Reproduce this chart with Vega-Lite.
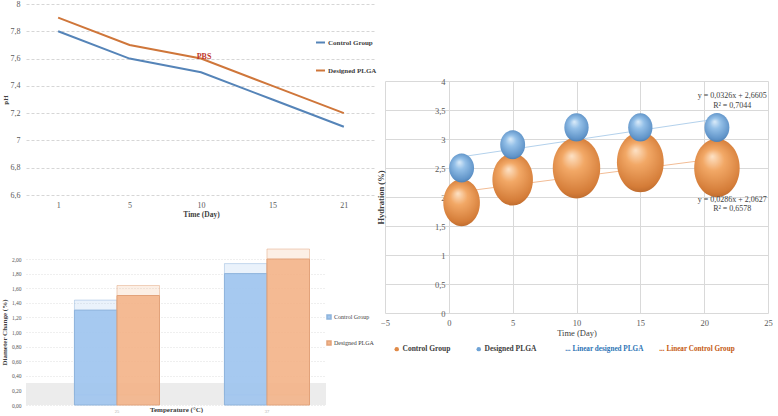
{
  "$schema": "https://vega.github.io/schema/vega-lite/v6.json",
  "padding": 0,
  "background": "white",
  "config": {
    "locale": {"number": {"decimal": ",", "thousands": ".", "grouping": [3], "currency": ["", ""]}},
    "view": {"stroke": null},
    "font": "Liberation Serif",
    "axis": {"domain": false, "ticks": false, "labelOverlap": false, "labelFont": "Liberation Serif", "titleFont": "Liberation Serif", "labelColor": "#595959", "titleColor": "#404040", "gridColor": "#d9d9d9", "titleFontWeight": "bold"},
    "legend": {"labelFont": "Liberation Serif", "titleFont": "Liberation Serif", "labelColor": "#404040"}
  },
  "spacing": -1,
  "resolve": {"scale": {"color": "independent", "size": "independent", "stroke": "independent"}, "legend": {"color": "independent", "stroke": "independent"}},
  "hconcat": [
    {
      "bounds": "flush",
      "spacing": 64,
      "resolve": {"scale": {"color": "independent", "stroke": "independent"}, "legend": {"color": "independent"}},
      "vconcat": [
        {
          "width": 350,
          "height": 191,
          "data": {"values": [
            {"day": 1, "series": "Control Group", "pH": 7.8},
            {"day": 5, "series": "Control Group", "pH": 7.6},
            {"day": 10, "series": "Control Group", "pH": 7.5},
            {"day": 15, "series": "Control Group", "pH": 7.3},
            {"day": 21, "series": "Control Group", "pH": 7.1},
            {"day": 1, "series": "Designed PLGA", "pH": 7.9},
            {"day": 5, "series": "Designed PLGA", "pH": 7.7},
            {"day": 10, "series": "Designed PLGA", "pH": 7.6},
            {"day": 15, "series": "Designed PLGA", "pH": 7.4},
            {"day": 21, "series": "Designed PLGA", "pH": 7.2}
          ]},
          "encoding": {
            "x": {"field": "day", "type": "ordinal", "sort": [1, 5, 10, 15, 21], "scale": {"padding": 0.45},
                  "axis": {"title": "Time (Day)", "labelAngle": 0, "labelFontSize": 8, "labelPadding": 6, "titleFontSize": 7.5, "titlePadding": 1, "grid": false}},
            "y": {"field": "pH", "type": "quantitative", "scale": {"domain": [6.6, 8], "zero": false},
                  "axis": {"title": "pH", "values": [6.6, 6.8, 7, 7.2, 7.4, 7.6, 7.8, 8], "format": "~g", "labelFontSize": 8, "labelPadding": 6, "titleFontSize": 7, "titlePadding": 2, "gridDash": [3, 2], "gridColor": "#d6d6d6"}}
          },
          "layer": [
            {
              "mark": {"type": "line", "strokeWidth": 2},
              "encoding": {
                "color": {"field": "series", "type": "nominal",
                          "scale": {"domain": ["Control Group", "Designed PLGA"], "range": ["#5584b8", "#cf763a"]},
                          "legend": {"title": null, "orient": "none", "legendX": 289, "legendY": 33, "symbolType": "stroke", "symbolSize": 81, "symbolStrokeWidth": 2, "rowPadding": 18, "labelFontSize": 7, "labelFontWeight": "bold", "labelOffset": 2}}
              }
            },
            {
              "transform": [{"filter": "datum.series === 'Designed PLGA' && datum.day === 10"}],
              "mark": {"type": "text", "text": "PBS", "fontWeight": "bold", "fontSize": 8, "color": "#c0392b", "dx": 3, "baseline": "alphabetic", "font": "Liberation Serif"}
            }
          ]
        },
        {
          "width": 300,
          "height": 146,
          "data": {"values": [
            {"temp": "25", "series": "Control Group", "change": 1.3},
            {"temp": "25", "series": "Designed PLGA", "change": 1.5},
            {"temp": "37", "series": "Control Group", "change": 1.8},
            {"temp": "37", "series": "Designed PLGA", "change": 2.0}
          ]},
          "encoding": {
            "x": {"field": "temp", "type": "nominal", "scale": {"paddingInner": 0.433, "paddingOuter": 0.2165, "align": 0.746},
                  "axis": {"title": "Temperature (°C)", "labelAngle": 0, "labelFontSize": 4.5, "labelColor": "#aaaaaa", "labelPadding": 3, "titleFontSize": 7, "titleY": 0, "titleBaseline": "top"}},
            "xOffset": {"field": "series", "type": "nominal", "scale": {"paddingInner": 0, "paddingOuter": 0}},
            "y": {"field": "change", "type": "quantitative", "scale": {"domain": [0, 2]},
                  "axis": {"title": "Diameter Change (%)", "values": [0, 0.2, 0.4, 0.6, 0.8, 1, 1.2, 1.4, 1.6, 1.8, 2], "format": ".2f", "labelOverlap": false, "labelFontSize": 5.5, "labelPadding": 5, "titleFontSize": 7, "titlePadding": 4, "gridDash": [1, 2], "gridColor": "#dedede"}},
            "color": {"field": "series", "type": "nominal", "scale": {"domain": ["Control Group", "Designed PLGA"], "range": ["#9ec4ee", "#f3b48a"]},
                      "legend": {"title": null, "orient": "none", "legendX": 300, "legendY": 55, "symbolType": "square", "symbolSize": 16, "rowPadding": 16, "labelFontSize": 6, "labelColor": "#404040", "labelOffset": 2, "symbolOpacity": 1}}
          },
          "layer": [
            {
              "mark": {"type": "rect", "color": "#ececec"},
              "encoding": {
                "x": {"value": 0},
                "x2": {"value": "width"},
                "xOffset": null,
                "color": null,
                "y": {"datum": 0, "type": "quantitative"},
                "y2": {"datum": 0.3}
              }
            },
            {
              "mark": {"type": "bar", "fillOpacity": 0.22, "strokeOpacity": 0.6, "strokeWidth": 0.8, "xOffset": 14, "x2Offset": 14, "yOffset": -10, "y2Offset": -10},
              "encoding": {
                "stroke": {"field": "series", "type": "nominal", "scale": {"domain": ["Control Group", "Designed PLGA"], "range": ["#8fb4dc", "#e2a27a"]}, "legend": null}
              }
            },
            {
              "mark": {"type": "bar", "fillOpacity": 0.9, "strokeWidth": 1},
              "encoding": {
                "stroke": {"field": "series", "type": "nominal", "legend": null}
              }
            }
          ]
        }
      ]
    },
    {
      "bounds": "flush",
      "spacing": 10,
      "resolve": {"scale": {"color": "independent", "size": "independent", "stroke": "independent"}, "legend": {"color": "independent", "stroke": "independent"}},
      "vconcat": [
        {
          "width": 383,
          "height": 67,
          "data": {"values": [{"t": ""}]},
          "mark": {"type": "text"},
          "encoding": {"text": {"field": "t"}}
        },
        {
          "width": 383,
          "height": 232,
          "data": {"values": [
            {"day": 1, "hydration": 1.9, "bubble": 2.2, "series": "Control Group"},
            {"day": 5, "hydration": 2.3, "bubble": 2.7, "series": "Control Group"},
            {"day": 10, "hydration": 2.5, "bubble": 3.7, "series": "Control Group"},
            {"day": 15, "hydration": 2.6, "bubble": 3.6, "series": "Control Group"},
            {"day": 21, "hydration": 2.5, "bubble": 3.4, "series": "Control Group"},
            {"day": 1, "hydration": 2.5, "bubble": 0.84, "series": "Designed PLGA"},
            {"day": 5, "hydration": 2.9, "bubble": 0.84, "series": "Designed PLGA"},
            {"day": 10, "hydration": 3.2, "bubble": 0.8, "series": "Designed PLGA"},
            {"day": 15, "hydration": 3.2, "bubble": 0.8, "series": "Designed PLGA"},
            {"day": 21, "hydration": 3.2, "bubble": 0.84, "series": "Designed PLGA"}
          ]},
          "encoding": {
            "x": {"field": "day", "type": "quantitative", "scale": {"domain": [-5, 25], "nice": false},
                  "axis": {"title": "Time (Day)", "values": [-5, 0, 5, 10, 15, 20, 25], "labelFlush": false, "labelFontSize": 8.5, "labelPadding": 5, "titleFontSize": 8.5, "titleFontWeight": "normal", "titlePadding": 2, "grid": true}},
            "y": {"field": "hydration", "type": "quantitative", "scale": {"domain": [0, 4], "nice": false},
                  "axis": {"title": "Hydration (%)", "values": [0, 0.5, 1, 1.5, 2, 2.5, 3, 3.5, 4], "format": "~g", "offset": -64, "labelPadding": 4, "labelFontSize": 8.5, "titleFontSize": 8.5, "titlePadding": 49, "grid": true}}
          },
          "layer": [
            {
              "transform": [{"regression": "hydration", "on": "day", "groupby": ["series"]}],
              "mark": {"type": "line", "strokeWidth": 1},
              "encoding": {
                "stroke": {"field": "series", "type": "nominal",
                           "scale": {"domain": ["Designed PLGA", "Control Group"], "range": ["#b3d1ec", "#f2bc95"]},
                           "legend": {"title": null, "orient": "none", "legendX": 173, "legendY": 264, "direction": "horizontal", "symbolType": "stroke", "symbolSize": 4, "symbolOpacity": 0, "labelOffset": 0, "labelFontSize": 7.2, "labelFontWeight": "bold", "columnPadding": 8,
                                      "labelExpr": "datum.value === 'Designed PLGA' ? '... Linear designed PLGA' : '... Linear Control Group'",
                                      "encode": {"labels": {"update": {"fill": {"signal": "datum.value === 'Designed PLGA' ? '#2e75b6' : '#c55a11'"}}}}}}
              }
            },
            {
              "transform": [{"filter": "datum.series === 'Control Group'"}],
              "mark": {"type": "point", "filled": true, "opacity": 1, "strokeWidth": 0,
                       "shape": "M -0.78 0 A 0.78 1 0 1 1 0.78 0 A 0.78 1 0 1 1 -0.78 0 Z",
                       "fill": {"gradient": "radial", "x1": 0.42, "y1": 0.3, "r1": 0, "x2": 0.5, "y2": 0.5, "r2": 0.62,
                                "stops": [{"offset": 0, "color": "#fde2c6"}, {"offset": 0.3, "color": "#f2a866"}, {"offset": 0.75, "color": "#d47c38"}, {"offset": 1, "color": "#a35722"}]}},
              "encoding": {
                "size": {"field": "bubble", "type": "quantitative", "scale": {"type": "linear", "domain": [0, 4], "range": [0, 4000], "zero": true}, "legend": null}
              }
            },
            {
              "transform": [{"filter": "datum.series === 'Designed PLGA'"}],
              "mark": {"type": "point", "filled": true, "opacity": 1, "strokeWidth": 0,
                       "shape": "M -0.86 0 A 0.86 1 0 1 1 0.86 0 A 0.86 1 0 1 1 -0.86 0 Z",
                       "fill": {"gradient": "radial", "x1": 0.42, "y1": 0.3, "r1": 0, "x2": 0.5, "y2": 0.5, "r2": 0.62,
                                "stops": [{"offset": 0, "color": "#dcecf9"}, {"offset": 0.3, "color": "#94c0e8"}, {"offset": 0.75, "color": "#5f93c8"}, {"offset": 1, "color": "#375f8a"}]}},
              "encoding": {
                "size": {"field": "bubble", "type": "quantitative", "legend": null}
              }
            },
            {
              "mark": {"type": "point", "filled": true, "size": 0, "opacity": 1},
              "encoding": {
                "color": {"field": "series", "type": "nominal",
                          "scale": {"domain": ["Control Group", "Designed PLGA"], "range": ["#e08a48", "#6fa3d6"]},
                          "legend": {"title": null, "orient": "none", "legendX": 8, "legendY": 264, "direction": "horizontal", "symbolType": "circle", "symbolSize": 20, "labelFontSize": 7.5, "labelFontWeight": "bold", "labelOffset": 2, "columnPadding": 24}}
              }
            },
            {
              "data": {"values": [
                {"day": 22.2, "hydration": 3.74, "label": "y = 0,0326x + 2,6605"},
                {"day": 22.2, "hydration": 3.57, "label": "R² = 0,7044"},
                {"day": 22.2, "hydration": 1.95, "label": "y = 0,0286x + 2,0627"},
                {"day": 22.2, "hydration": 1.79, "label": "R² = 0,6578"}
              ]},
              "mark": {"type": "text", "fontSize": 8, "color": "#404040", "font": "Liberation Serif"},
              "encoding": {"text": {"field": "label"}}
            }
          ]
        }
      ]
    }
  ]
}
